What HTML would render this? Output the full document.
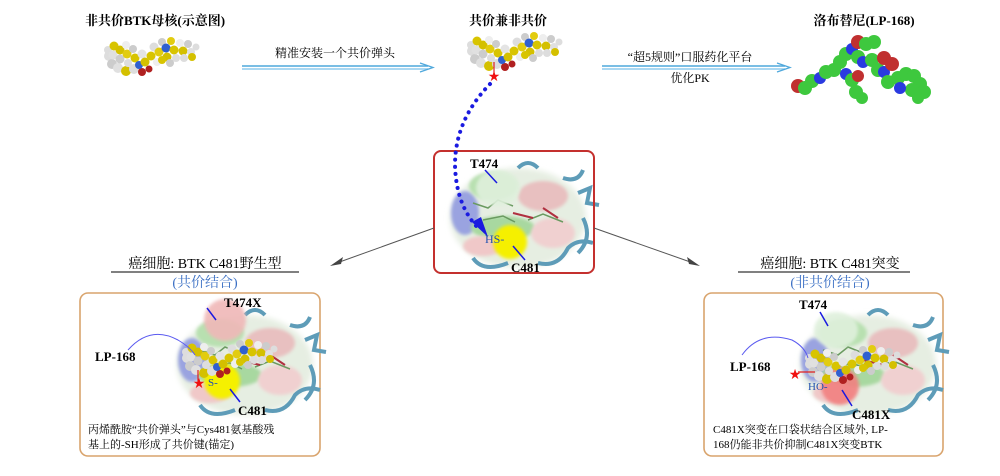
<!DOCTYPE html>
<html><head><meta charset="utf-8"><style>
html,body{margin:0;padding:0;background:#fff;}
svg{display:block}
.b{font-family:"Liberation Serif","Noto Serif CJK SC",serif;font-weight:bold;fill:#000}
.s{font-family:"Liberation Serif","Noto Serif CJK SC",serif;fill:#000}
.bl{font-family:"Liberation Serif","Noto Serif CJK SC",serif;fill:#3a6fc4}
</style></head><body>
<svg width="1000" height="476" viewBox="0 0 1000 476" xmlns="http://www.w3.org/2000/svg">
<defs>
<filter id="bl" x="-30%" y="-30%" width="160%" height="160%"><feGaussianBlur stdDeviation="3"/></filter>
<filter id="bl2" x="-30%" y="-30%" width="160%" height="160%"><feGaussianBlur stdDeviation="1.5"/></filter>
<g id="ym">
<circle cx="5" cy="20" r="5" fill="#ddd"/><circle cx="8" cy="28" r="5" fill="#ccc"/><circle cx="14" cy="32" r="5" fill="#e0e0e0"/>
<circle cx="22" cy="35" r="5" fill="#d4c000"/><circle cx="30" cy="33" r="5" fill="#ddd"/><circle cx="38" cy="36" r="4" fill="#b02020"/>
<circle cx="4" cy="14" r="4" fill="#ddd"/><circle cx="10" cy="10" r="4.5" fill="#d8c400"/><circle cx="9" cy="19" r="4.5" fill="#e0e0e0"/>
<circle cx="16" cy="14" r="4.5" fill="#d4c000"/><circle cx="16" cy="23" r="4.5" fill="#ccc"/><circle cx="22" cy="9" r="4" fill="#eee"/>
<circle cx="23" cy="18" r="4.5" fill="#e2cc10"/><circle cx="24" cy="27" r="4" fill="#ddd"/><circle cx="29" cy="13" r="4" fill="#ccc"/>
<circle cx="31" cy="22" r="4.5" fill="#d8c400"/><circle cx="35" cy="29" r="4" fill="#3060d0"/><circle cx="38" cy="18" r="4.5" fill="#e4e4e4"/>
<circle cx="41" cy="26" r="4.5" fill="#d4c000"/><circle cx="45" cy="33" r="3.5" fill="#b02020"/><circle cx="47" cy="20" r="4.5" fill="#d8c400"/>
<circle cx="50" cy="11" r="4.5" fill="#ddd"/><circle cx="53" cy="26" r="4" fill="#eee"/><circle cx="55" cy="16" r="4.5" fill="#e2cc10"/>
<circle cx="58" cy="6" r="4" fill="#ccc"/><circle cx="62" cy="12" r="4.5" fill="#3060d0"/><circle cx="63" cy="21" r="4.5" fill="#d4c000"/>
<circle cx="67" cy="5" r="4" fill="#e2cc10"/><circle cx="70" cy="14" r="4.5" fill="#d8c400"/><circle cx="72" cy="22" r="4" fill="#ddd"/>
<circle cx="76" cy="7" r="4" fill="#eee"/><circle cx="79" cy="15" r="4.5" fill="#d4c000"/><circle cx="84" cy="8" r="4" fill="#ccc"/>
<circle cx="87" cy="16" r="4" fill="#e0e0e0"/><circle cx="92" cy="11" r="3.5" fill="#ddd"/>
<circle cx="58" cy="24" r="4" fill="#d8c400"/><circle cx="66" cy="27" r="4" fill="#ccc"/><circle cx="80" cy="22" r="4" fill="#ddd"/><circle cx="88" cy="21" r="4" fill="#d4c000"/>
</g>
<g id="prot">
<ellipse cx="75" cy="60" rx="68" ry="50" fill="#e6eee2" filter="url(#bl)"/>
<ellipse cx="22" cy="55" rx="14" ry="22" fill="#9aa3e0" filter="url(#bl2)"/>
<ellipse cx="50" cy="28" rx="24" ry="14" fill="#b8e0b0" filter="url(#bl2)"/>
<ellipse cx="100" cy="38" rx="25" ry="15" fill="#e8c0c0" filter="url(#bl2)"/>
<ellipse cx="60" cy="70" rx="32" ry="12" fill="#a8d8a0" filter="url(#bl2)"/>
<ellipse cx="110" cy="75" rx="22" ry="15" fill="#f0d0d0" filter="url(#bl2)"/>
<ellipse cx="40" cy="88" rx="20" ry="10" fill="#f0c8c8" filter="url(#bl2)"/>
<path d="M30 45 l15 5 l10 -8 l15 6 M40 62 l20 -4 l12 6 M85 62 l15 -6 l20 8" fill="none" stroke="#6a9a60" stroke-width="1.5"/>
<path d="M75 10 q10 -10 20 0 M120 20 q15 5 20 -8 M135 35 l12 -5 l-3 15 l12 2 M30 100 q10 15 35 5 M95 105 q20 5 30 -15 q10 -10 25 -5 M140 60 q10 20 -5 35" fill="none" stroke="#5e9cb8" stroke-width="4"/>
<path d="M70 55 l20 5 M100 50 l15 10" stroke="#b03040" stroke-width="2"/>
</g>
</defs>

<!-- top row -->
<text x="155" y="25" text-anchor="middle" class="b" font-size="13">非共价BTK母核(示意图)</text>
<use href="#ym" x="104" y="36"/>
<line x1="242" y1="66" x2="428" y2="66" stroke="#4fa8dc" stroke-width="1.5"/>
<line x1="242" y1="69" x2="428" y2="69" stroke="#8fcbee" stroke-width="1.5"/>
<path d="M420 63 L433 67.5 L420 72" fill="none" stroke="#4fa8dc" stroke-width="1.3"/>
<text x="335" y="57" text-anchor="middle" class="s" font-size="12">精准安装一个共价弹头</text>

<text x="508" y="25" text-anchor="middle" class="b" font-size="13">共价兼非共价</text>
<use href="#ym" x="467" y="31"/>
<line x1="494" y1="62" x2="494" y2="74" stroke="#e02020" stroke-width="1.2"/>
<text x="494" y="81" text-anchor="middle" font-size="14" fill="#f01010">★</text>

<line x1="602" y1="66" x2="785" y2="66" stroke="#4fa8dc" stroke-width="1.5"/>
<line x1="602" y1="69" x2="785" y2="69" stroke="#8fcbee" stroke-width="1.5"/>
<path d="M777 63 L790 67.5 L777 72" fill="none" stroke="#4fa8dc" stroke-width="1.3"/>
<text x="690" y="61" text-anchor="middle" class="s" font-size="12">“超5规则”口服药化平台</text>
<text x="690" y="82" text-anchor="middle" class="s" font-size="12">优化PK</text>

<text x="864" y="25" text-anchor="middle" class="b" font-size="13">洛布替尼(LP-168)</text>
<g>
<circle cx="798" cy="86" r="7" fill="#c03030"/><circle cx="805" cy="88" r="7" fill="#3ec83e"/><circle cx="812" cy="81" r="7" fill="#3ec83e"/>
<circle cx="820" cy="78" r="6" fill="#2a3ae0"/><circle cx="826" cy="72" r="7" fill="#3ec83e"/><circle cx="834" cy="70" r="7" fill="#3ec83e"/>
<circle cx="840" cy="62" r="7" fill="#3ec83e"/><circle cx="846" cy="54" r="7" fill="#3ec83e"/><circle cx="852" cy="49" r="6" fill="#2a3ae0"/>
<circle cx="858" cy="42" r="7" fill="#c03030"/><circle cx="866" cy="44" r="7" fill="#3ec83e"/><circle cx="874" cy="42" r="7" fill="#3ec83e"/>
<circle cx="858" cy="57" r="7" fill="#3ec83e"/><circle cx="863" cy="62" r="6" fill="#2a3ae0"/><circle cx="846" cy="74" r="6" fill="#2a3ae0"/>
<circle cx="852" cy="80" r="7" fill="#3ec83e"/><circle cx="856" cy="92" r="7" fill="#3ec83e"/><circle cx="862" cy="98" r="6" fill="#3ec83e"/>
<circle cx="858" cy="76" r="6" fill="#c03030"/><circle cx="872" cy="60" r="7" fill="#3ec83e"/><circle cx="878" cy="70" r="7" fill="#3ec83e"/>
<circle cx="884" cy="72" r="6" fill="#2a3ae0"/><circle cx="884" cy="58" r="7" fill="#c03030"/><circle cx="892" cy="64" r="7" fill="#c03030"/>
<circle cx="888" cy="82" r="7" fill="#3ec83e"/><circle cx="898" cy="78" r="7" fill="#3ec83e"/><circle cx="906" cy="74" r="7" fill="#3ec83e"/>
<circle cx="914" cy="76" r="7" fill="#3ec83e"/><circle cx="920" cy="84" r="7" fill="#3ec83e"/><circle cx="924" cy="92" r="7" fill="#3ec83e"/>
<circle cx="912" cy="90" r="7" fill="#3ec83e"/><circle cx="900" cy="88" r="6" fill="#2a3ae0"/><circle cx="918" cy="98" r="6" fill="#3ec83e"/>
</g>

<!-- center box -->
<use href="#prot" x="443" y="158"/>
<ellipse cx="498" cy="188" rx="22" ry="18" fill="#dff0dc" opacity="0.9" filter="url(#bl2)"/>
<circle cx="510" cy="242" r="17" fill="#f5f000" filter="url(#bl2)"/>
<rect x="434" y="151" width="160" height="122" rx="7" fill="none" stroke="#c4302e" stroke-width="2"/>
<path d="M490 84 Q455 120 455 165 Q456 205 478 228" fill="none" stroke="#1a1ae0" stroke-width="4" stroke-dasharray="0.1 7" stroke-linecap="round"/>
<path d="M472 222 L488 237 L481 217 Z" fill="#1a1ae0"/>
<text x="470" y="168" class="b" font-size="13">T474</text>
<line x1="485" y1="170" x2="497" y2="183" stroke="#1a1ae0" stroke-width="1.5"/>
<text x="485" y="243" class="s" font-size="12" style="fill:#2050b0">HS-</text>
<text x="511" y="272" class="b" font-size="13">C481</text>
<line x1="513" y1="246" x2="525" y2="260" stroke="#1a1ae0" stroke-width="1.5"/>

<!-- connectors -->
<line x1="434" y1="228" x2="334" y2="264" stroke="#555" stroke-width="1"/>
<path d="M330 266 L343 257 L341 264 Z" fill="#444"/>
<line x1="594" y1="228" x2="696" y2="264" stroke="#555" stroke-width="1"/>
<path d="M700 266 L687 257 L689 264 Z" fill="#444"/>

<!-- left -->
<text x="205" y="268" text-anchor="middle" class="s" font-size="14">癌细胞: BTK C481野生型</text>
<line x1="111" y1="272" x2="299" y2="272" stroke="#000" stroke-width="1"/>
<text x="205" y="287" text-anchor="middle" class="bl" font-size="14">(共价结合)</text>
<rect x="80" y="293" width="240" height="163" rx="8" fill="none" stroke="#d9a46d" stroke-width="1.6"/>
<use href="#prot" x="170" y="305"/>
<circle cx="225" cy="320" r="21" fill="#f0b8b8" opacity="0.9" filter="url(#bl2)"/>
<circle cx="222" cy="381" r="18" fill="#f5f000" filter="url(#bl2)"/>
<use href="#ym" x="182" y="338"/>
<text x="224" y="307" class="b" font-size="13">T474X</text>
<line x1="207" y1="308" x2="216" y2="320" stroke="#1a1ae0" stroke-width="1.5"/>
<text x="95" y="361" class="b" font-size="13">LP-168</text>
<path d="M128 350 Q150 325 178 340 Q190 347 195 355" fill="none" stroke="#5a5af0" stroke-width="1"/>
<line x1="198" y1="370" x2="198" y2="382" stroke="#e02020" stroke-width="1.2"/>
<text x="199" y="388" text-anchor="middle" font-size="14" fill="#f01010">★</text>
<text x="208" y="386" class="s" font-size="11" style="fill:#2050b0">S-</text>
<line x1="230" y1="389" x2="240" y2="402" stroke="#1a1ae0" stroke-width="1.5"/>
<text x="238" y="415" class="b" font-size="13">C481</text>
<text x="88" y="433" class="s" font-size="11">丙烯酰胺“共价弹头”与Cys481氨基酸残</text>
<text x="88" y="448" class="s" font-size="11">基上的-SH形成了共价键(锚定)</text>

<!-- right -->
<text x="830" y="268" text-anchor="middle" class="s" font-size="14">癌细胞: BTK C481突变</text>
<line x1="738" y1="272" x2="910" y2="272" stroke="#000" stroke-width="1"/>
<text x="830" y="287" text-anchor="middle" class="bl" font-size="14">(非共价结合)</text>
<rect x="704" y="293" width="239" height="163" rx="8" fill="none" stroke="#d9a46d" stroke-width="1.6"/>
<use href="#prot" x="793" y="305"/>
<ellipse cx="836" cy="330" rx="22" ry="18" fill="#dff0dc" opacity="0.9" filter="url(#bl2)"/>
<circle cx="840" cy="386" r="19" fill="#f28080" opacity="0.9" filter="url(#bl2)"/>
<use href="#ym" x="805" y="344"/>
<text x="799" y="309" class="b" font-size="13">T474</text>
<line x1="820" y1="312" x2="828" y2="326" stroke="#1a1ae0" stroke-width="1.5"/>
<text x="730" y="371" class="b" font-size="13">LP-168</text>
<path d="M742 355 Q760 330 792 340 Q805 347 808 358" fill="none" stroke="#5a5af0" stroke-width="1"/>
<line x1="798" y1="372" x2="815" y2="372" stroke="#e02020" stroke-width="1.2"/>
<text x="795" y="379" text-anchor="middle" font-size="14" fill="#f01010">★</text>
<text x="808" y="390" class="s" font-size="11" style="fill:#2050b0">HO-</text>
<line x1="842" y1="390" x2="852" y2="406" stroke="#1a1ae0" stroke-width="1.5"/>
<text x="852" y="419" class="b" font-size="13">C481X</text>
<text x="713" y="433" class="s" font-size="11">C481X突变在口袋状结合区域外, LP-</text>
<text x="713" y="448" class="s" font-size="11">168仍能非共价抑制C481X突变BTK</text>
</svg>
</body></html>
